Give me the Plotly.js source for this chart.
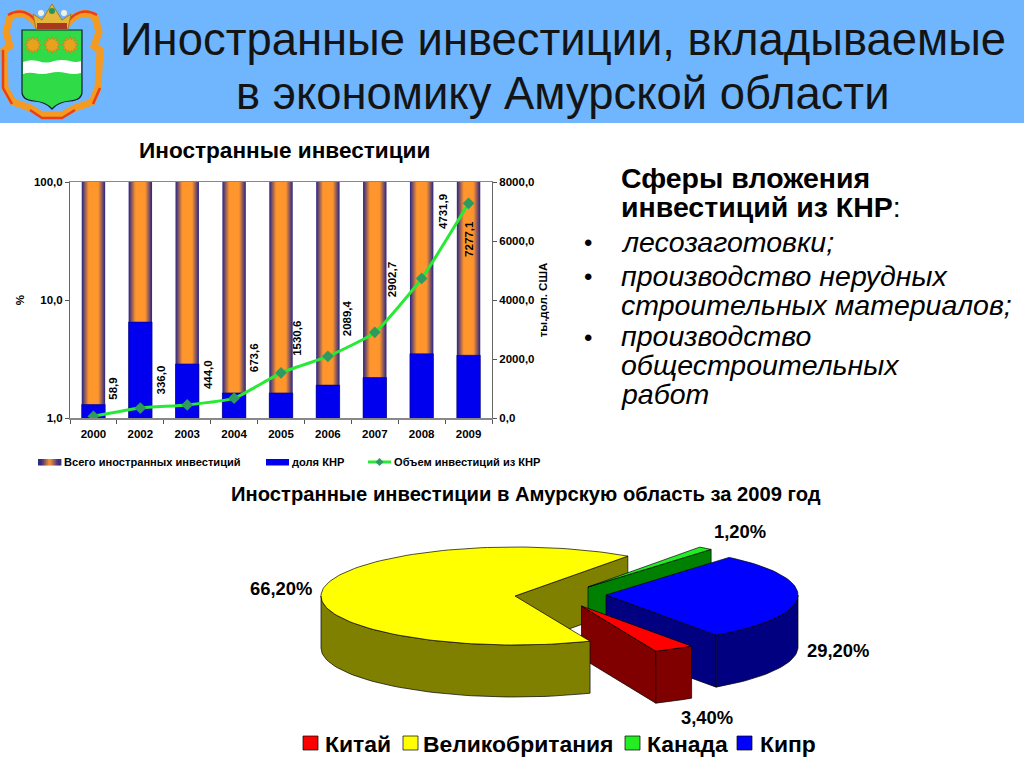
<!DOCTYPE html>
<html><head><meta charset="utf-8">
<script src="https://cdn.plot.ly/plotly-3.0.1.min.js"></script>
<style>html,body{margin:0;padding:0;background:#fff;overflow:hidden}#c{width:1024px;height:768px}</style>
</head><body><div id="c"></div>
<script>
// ---- data ----
var years = ['2000','2002','2003','2004','2005','2006','2007','2008','2009'];
var totalShare = [100,100,100,100,100,100,100,100,100];
var chinaShare = [1.3,6.5,2.87,1.63,1.63,1.9,2.2,3.5,3.4];
var chinaVolume = [58.9,336.0,444.0,673.6,1530.6,2089.4,2902.7,4731.9,7277.1];
var leftTickVals = [1,10,100];
var leftTickText = ['1,0','10,0','100,0'];
var rightTickVals = [0,2000,4000,6000,8000];
var rightTickText = ['0,0','2000,0','4000,0','6000,0','8000,0'];
var pieNames = ['Китай','Великобритания','Канада','Кипр'];
var pieShares = [3.4,66.2,1.2,29.2];

// ---- style ----
var F = '"Liberation Sans", Arial, sans-serif';
var labelShiftX = [20,21,21,20,16,19,18,22,1];
var labelShiftY = [-28,-28,-30,-40,-34,-38,-53,-67,36];
var topCol = ['#FF0000','#FFFF00','#22EE22','#0000FF'];
var darkCol = ['#800000','#808000','#008000','#000080'];
var pieCenters = [[581.5,606],[515,596],[588,587],[606,595]];
var pieRx = [192,194,192,192], pieRy = 49, pieDepth = 52, pieStart = -55;
var pieLabelPos = [[707,717],[281,588],[740,531],[838,650]];

var traces = [], shapes = [], ann = [];
var fmt = function(v,d){ return v.toFixed(d).replace('.',','); };
function mix(a,b,t){ return 'rgb('+[0,1,2].map(function(i){return Math.round(a[i]+(b[i]-a[i])*t);}).join(',')+')'; }

// gradient bars: nested overlaid bars
var edge=[52,44,130], mid=[255,150,45], steps=12;
for(var s=0;s<steps;s++){
  var t=s/(steps-1);
  traces.push({type:'bar',x:years,y:totalShare,width:0.5*(1-t*0.92),xaxis:'x',yaxis:'y',
    marker:{color:mix(edge,mid,Math.min(1,t*1.7)),line:{width:0}},showlegend:false,hoverinfo:'skip'});
}
traces.push({type:'bar',name:'доля КНР',x:years,y:chinaShare,width:0.5,xaxis:'x',yaxis:'y',
  marker:{color:'#0000EE',line:{width:0.6,color:'#000080'}},showlegend:false});
traces.push({type:'scatter',mode:'lines+markers',name:'Объем инвестиций из КНР',x:years,y:chinaVolume,xaxis:'x',yaxis:'y2',
  line:{color:'#26EA36',width:3,shape:'spline',smoothing:0.5},
  marker:{symbol:'diamond',size:9,color:'#2E9A5E'},showlegend:false});

chinaVolume.forEach(function(v,i){
  ann.push({xref:'x',yref:'y2',x:i,y:v,text:'<b>'+fmt(v,1)+'</b>',showarrow:false,textangle:-90,
    xshift:labelShiftX[i],yshift:-labelShiftY[i],font:{family:F,size:11.5,color:'#000'}});
});

// pie drawn through pixel-scaled hidden axes
function poly(xs,ys,fill){
  traces.push({type:'scatter',mode:'lines',x:xs.concat([xs[0]]),y:ys.concat([ys[0]]),xaxis:'x3',yaxis:'y3',
    fill:'toself',fillcolor:fill,line:{color:'#000',width:0.7},showlegend:false,hoverinfo:'skip'});
}
var slices=[], ang=pieStart;
pieShares.forEach(function(v,i){
  var a0=ang, a1=ang-v*3.6; ang=a1;
  if(a1<-360){ a0+=360; a1+=360; }
  var c=pieCenters[i], rx=pieRx[i];
  function pt(a){ var r=a*Math.PI/180; return [c[0]+rx*Math.cos(r), c[1]-pieRy*Math.sin(r)]; }
  function arc(from,to){ var n=Math.max(2,Math.ceil(Math.abs(to-from)/2)),o=[]; for(var k=0;k<=n;k++){o.push(pt(from+(to-from)*k/n));} return o; }
  slices.push({
    cut:function(){ var p=pt(a1); poly([c[0],p[0],p[0],c[0]],[c[1],p[1],p[1]+pieDepth,c[1]+pieDepth],darkCol[i]); },
    wall:function(){ var hi=Math.min(a0,0), lo=Math.max(a1,-180); if(hi<=lo) return;
      var A=arc(hi,lo), xs=[],ys=[]; A.forEach(function(q){xs.push(q[0]);ys.push(q[1]);});
      A.slice().reverse().forEach(function(q){xs.push(q[0]);ys.push(q[1]+pieDepth);}); poly(xs,ys,darkCol[i]); },
    top:function(){ var A=arc(a0,a1), xs=[c[0]],ys=[c[1]]; A.forEach(function(q){xs.push(q[0]);ys.push(q[1]);}); poly(xs,ys,topCol[i]); }
  });
  ann.push({xref:'x3',yref:'y3',x:pieLabelPos[i][0],y:pieLabelPos[i][1],showarrow:false,
    text:'<b>'+fmt(v,2)+'%</b>',font:{family:F,size:18.4,color:'#000'}});
});
slices[1].cut();
slices[2].cut(); slices[2].top();
slices[3].cut(); slices[3].wall(); slices[3].top();
slices[0].cut(); slices[0].wall(); slices[0].top();
slices[1].wall(); slices[1].top();

// page furniture helpers (pixel axes)
function text(x,y,t,size,anchor,color,extra){
  var a={xref:'x3',yref:'y3',x:x,y:y,text:t,showarrow:false,xanchor:anchor||'center',yanchor:'middle',
    font:{family:F,size:size,color:color||'#000'}};
  for(var k in extra||{}) a[k]=extra[k];
  ann.push(a);
}
function rect(x0,y0,x1,y1,fill,line,layer){
  shapes.push({type:'rect',xref:'x3',yref:'y3',x0:x0,y0:y0,x1:x1,y1:y1,fillcolor:fill,layer:layer||'above',
    line:line?{color:line,width:0.7}:{width:0}});
}
function path(d,fill,lineCol,w){
  shapes.push({type:'path',xref:'x3',yref:'y3',path:d,fillcolor:fill||'rgba(0,0,0,0)',layer:'above',
    line:lineCol?{color:lineCol,width:w||1}:{width:0}});
}

// header
rect(0,0,1024,123,'#6FB6FF',null,'below');
text(563,39,'Иностранные инвестиции, вкладываемые',45.4,'center','#141414');
text(563,93,'в экономику Амурской области',45.4,'center','#141414');

// coat of arms
path('M38,26 C30,14 20,10 10,17 L6,32 L10,46 L4,50 L5,88 L13,102 L30,108 L42,115 L62,115 L75,108 L92,102 L98,88 L100,50 L94,46 L99,32 L95,17 C85,10 74,14 66,26',null,'#F59A20',7);
path('M38,24 C30,12 20,8 8,15 M3,50 L3,88 L12,104 M30,110 L42,118 L62,118 L75,110 M93,104 L100,88 M97,15 C85,8 74,12 66,24',null,'#E8401A',2.5);
path('M22,30 L82,30 L82,92 Q82,100 70,101 Q58,102 52,109 Q46,102 34,101 Q22,100 22,92 Z','#2FDC48','#123',1.2);
path('M23,62 Q30,59 38,61 Q46,64 54,61 Q62,59 70,61 Q76,63 81,61 L81,73 Q74,75 66,73 Q58,71 50,73 Q42,75 34,73 Q28,72 23,74 Z','#FFFFFF');
[33,52,70].forEach(function(x){
  var d='';
  for(var k=0;k<24;k++){
    var r=(k%2?5.5:8.5), a=k*Math.PI/12;
    d+=(k?'L':'M')+(x+r*Math.cos(a)).toFixed(1)+','+(45+r*Math.sin(a)).toFixed(1)+' ';
  }
  path(d+'Z','#E9A21E','#C8781A',0.6);
});
path('M36,29 L33,14 L42,20 L52,4 L62,20 L71,14 L68,29 Z','#E4B73A','#A87A20',1);
rect(37,23,67,29,'#A8381E');
[[41,13],[52,11],[64,13]].forEach(function(p){
  shapes.push({type:'circle',xref:'x3',yref:'y3',x0:p[0]-3,x1:p[0]+3,y0:p[1]-3,y1:p[1]+3,fillcolor:p[0]==52?'#1F9A50':'#F2F2E0',line:{width:0},layer:'above'});
});

// chart titles
text(284,150,'<b>Иностранные инвестиции</b>',22.6);
text(526,494,'<b>Иностранные инвестиции в Амурскую область за 2009 год</b>',20.2);

// bar chart legend
for(var g=0;g<12;g++){
  var u=Math.abs(g-5.5)/5.5;
  rect(38+g*23/12,459,38+(g+1)*23/12+0.4,465.5,mix(mid,edge,Math.min(1,u*1.3)));
}
text(62,462,'<b>Всего иностранных инвестиций</b>',11.1,'left');
rect(266,459,289,465.5,'#0000EE');
text(290,462,'<b>доля КНР</b>',11.1,'left');
shapes.push({type:'line',xref:'x3',yref:'y3',x0:368,x1:391,y0:462,y1:462,line:{color:'#26EA36',width:3},layer:'above'});
path('M379.5,458 L383.5,462 L379.5,466 L375.5,462 Z','#2E9A5E');
text(392,462,'<b>Объем инвестиций из КНР</b>',11.1,'left');

// pie legend
var swX=[303,403,625,737], txX=[323,421,645,758];
pieNames.forEach(function(n,i){
  rect(swX[i],736,swX[i]+15,750,topCol[i],'#000');
  text(txX[i],744,'<b>'+n+'</b>',22.9,'left');
});

// right text block
text(619,178,'<b>Сферы вложения</b>',28.5,'left');
text(619,207,'<b>инвестиций из КНР</b>:',28.5,'left');
text(619,242,'<i>лесозаготовки;</i>',28.5,'left');
text(619,275.5,'<i>производство нерудных</i>',28.5,'left');
text(619,304.5,'<i>строительных материалов;</i>',28.5,'left');
text(619,336,'<i>производство</i>',28.5,'left');
text(619,365,'<i>общестроительных</i>',28.5,'left');
text(619,394,'<i>работ</i>',28.5,'left');
[242,276,337].forEach(function(y){ text(582,y,'•',24,'left'); });

var tickFont={family:F,size:11.5,color:'#000',weight:'bold'};
var layout={
  width:1024,height:768,margin:{l:0,r:0,t:0,b:0},paper_bgcolor:'#fff',plot_bgcolor:'rgba(0,0,0,0)',
  barmode:'overlay',showlegend:false,hovermode:false,
  xaxis:{domain:[70/1024,492/1024],anchor:'y',type:'category',categoryorder:'array',categoryarray:years,range:[-0.5,8.5],autorange:false,
    tickson:'boundaries',ticks:'outside',ticklen:4,tickcolor:'#555',linecolor:'#888',linewidth:1.5,mirror:true,
    showgrid:false,tickfont:tickFont,tickangle:0,ticklabelstandoff:5},
  yaxis:{domain:[1-418/768,1-182/768],anchor:'x',type:'log',range:[0,2],tickvals:leftTickVals,ticktext:leftTickText,
    ticks:'outside',ticklen:4,tickcolor:'#555',linecolor:'#666',linewidth:1,showgrid:false,zeroline:false,tickfont:tickFont,
    title:{text:'<b>%</b>',font:{family:F,size:11.5,color:'#000'},standoff:6}},
  yaxis2:{domain:[1-418/768,1-182/768],anchor:'x',overlaying:'y',side:'right',range:[0,8000],tickvals:rightTickVals,ticktext:rightTickText,
    ticks:'outside',ticklen:4,tickcolor:'#555',linecolor:'#666',linewidth:1,showgrid:false,zeroline:false,tickfont:tickFont,
    title:{text:'<b>ты.дол. США</b>',font:{family:F,size:11.5,color:'#000'},standoff:5}},
  xaxis3:{domain:[0,1],anchor:'y3',range:[0,1024],visible:false,fixedrange:true},
  yaxis3:{domain:[0,1],anchor:'x3',range:[768,0],visible:false,fixedrange:true},
  shapes:shapes,annotations:ann
};
Plotly.newPlot('c',traces,layout,{displayModeBar:false,staticPlot:true});
</script></body></html>
